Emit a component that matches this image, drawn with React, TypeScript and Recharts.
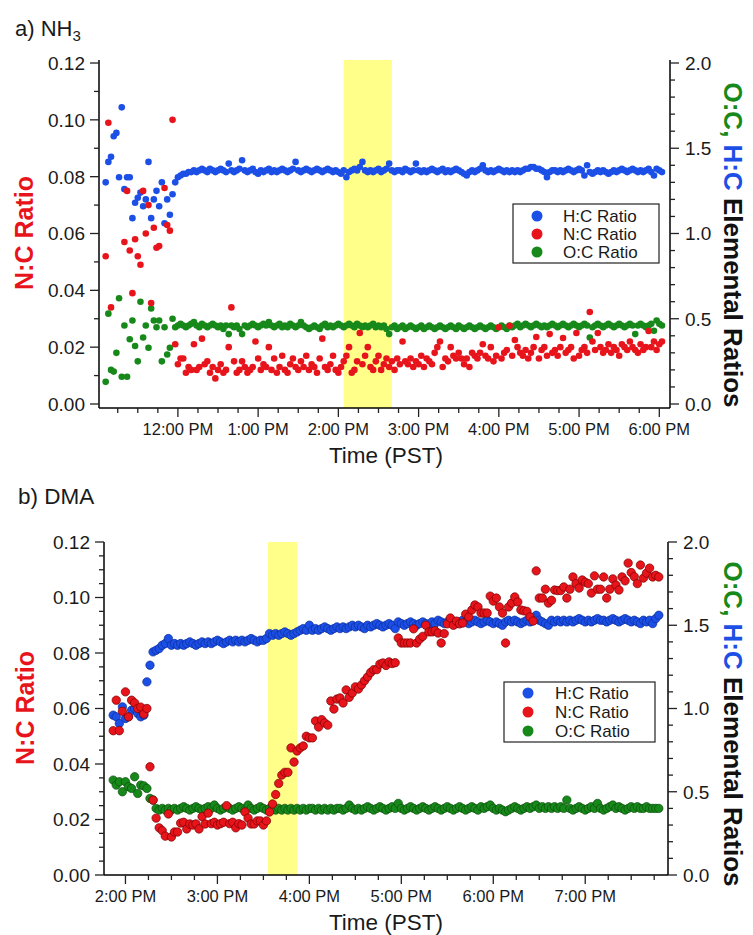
import { ReferenceArea, Scatter, ScatterChart, XAxis, YAxis } from "recharts";

/**
 * Two stacked scatter panels of elemental ratios vs. time of day:
 * a) NH3 and b) DMA. N:C on the left axis, H:C and O:C on the right axis,
 * with the yellow band marking the exposure window.
 */

const FONT = "'Liberation Sans', Arial, Helvetica, sans-serif";
const BLUE = "#1c4fe6";
const RED = "#e8141c";
const GREEN = "#17891a";
const BAND = "#ffff8a";
const INK = "#1a1a1a";

// instrument sampling interval, minutes
const SAMPLE_MIN = 2;

// ---- panel a) NH3 : first sample at 11:06 ----
const startA = 666;
const hcA = [
  1.30, 1.42, 1.45, 1.57, 1.59, 1.33, 1.74, 1.26, 1.33, 1.33,
  1.09, 1.18, 1.21, 1.24, 1.16, 1.20, 1.42, 1.09, 1.20, 1.25,
  1.16, 1.30, 1.06, 1.20, 1.11, 1.23, 1.30, 1.33, 1.34, 1.35,
  1.35, 1.36, 1.36, 1.37, 1.36, 1.37, 1.38, 1.37, 1.36, 1.38,
  1.37, 1.36, 1.37, 1.38, 1.37, 1.36, 1.41, 1.37, 1.36, 1.37,
  1.38, 1.43, 1.37, 1.36, 1.37, 1.38, 1.36, 1.35, 1.37, 1.36,
  1.37, 1.38, 1.36, 1.37, 1.36, 1.37, 1.38, 1.37, 1.36, 1.37,
  1.38, 1.42, 1.37, 1.36, 1.37, 1.38, 1.37, 1.36, 1.37, 1.38,
  1.37, 1.36, 1.37, 1.38, 1.37, 1.36, 1.37, 1.36, 1.35, 1.37,
  1.33, 1.36, 1.37, 1.38, 1.37, 1.39, 1.42, 1.37, 1.36, 1.37,
  1.36, 1.37, 1.38, 1.36, 1.37, 1.38, 1.41, 1.37, 1.36, 1.37,
  1.37, 1.36, 1.38, 1.37, 1.36, 1.37, 1.41, 1.37, 1.36, 1.37,
  1.36, 1.37, 1.38, 1.37, 1.36, 1.37, 1.38, 1.36, 1.37, 1.36,
  1.37, 1.38, 1.37, 1.36, 1.35, 1.34, 1.36, 1.37, 1.36, 1.37,
  1.38, 1.40, 1.37, 1.36, 1.37, 1.36, 1.37, 1.38, 1.37, 1.36,
  1.37, 1.36, 1.37, 1.36, 1.37, 1.36, 1.37, 1.38, 1.38, 1.39,
  1.39, 1.38, 1.38, 1.37, 1.36, 1.33, 1.36, 1.37, 1.37, 1.36,
  1.37, 1.36, 1.37, 1.38, 1.37, 1.36, 1.37, 1.38, 1.37, 1.34,
  1.40, 1.36, 1.35, 1.36, 1.37, 1.36, 1.37, 1.36, 1.35, 1.36,
  1.37, 1.36, 1.37, 1.38, 1.37, 1.36, 1.37, 1.38, 1.37, 1.36,
  1.37, 1.36, 1.37, 1.38, 1.36, 1.34, 1.38, 1.37, 1.36,
];
const ncA = [
  0.052, 0.099, 0.034, null, null, null, null, 0.057, 0.075, 0.054,
  0.039, 0.058, 0.052, 0.049, 0.075, 0.060, 0.070, 0.0355, 0.062, 0.055,
  0.0556, null, 0.076, 0.063, 0.061, 0.100, 0.021, 0.014, 0.016, 0.016,
  0.011, 0.013, 0.012, 0.021, 0.012, 0.013, 0.023, 0.014, 0.015, 0.011,
  0.013, 0.009, 0.012, 0.014, 0.011, 0.012, 0.020, 0.034, 0.015, 0.011,
  0.012, 0.015, 0.013, 0.011, 0.012, 0.013, 0.022, 0.016, 0.012, 0.014,
  0.013, 0.020, 0.012, 0.016, 0.011, 0.013, 0.017, 0.012, 0.011, 0.014,
  0.016, 0.013, 0.012, 0.015, 0.013, 0.017, 0.012, 0.014, 0.013, 0.011,
  0.016, 0.023, 0.013, 0.012, 0.014, 0.017, 0.012, 0.011, 0.013, 0.015,
  0.017, 0.020, 0.011, 0.012, 0.015, 0.025, 0.014, 0.017, 0.020, 0.013,
  0.012, 0.015, 0.017, 0.012, 0.014, 0.016, 0.013, 0.015, 0.012, 0.016,
  0.014, 0.022, 0.015, 0.014, 0.016, 0.013, 0.015, 0.014, 0.017, 0.013,
  0.016, 0.015, 0.014, 0.018, 0.020, 0.022, 0.013, 0.016, 0.015, 0.020,
  0.017, 0.016, 0.018, 0.016, 0.014, 0.016, 0.013, 0.018, 0.017, 0.016,
  0.018, 0.021, 0.017, 0.016, 0.020, 0.015, 0.017, 0.027, 0.016, 0.018,
  0.019, 0.0275, 0.017, 0.0225, 0.020, 0.018, 0.017, 0.019, 0.016, 0.018,
  0.020, 0.0236, 0.016, 0.019, 0.020, 0.017, 0.0246, 0.018, 0.019, 0.017,
  0.020, 0.0232, 0.018, 0.019, 0.020, 0.016, 0.025, 0.017, 0.019, 0.020,
  0.018, 0.0324, 0.022, 0.019, 0.025, 0.020, 0.018, 0.019, 0.021, 0.018,
  0.020, 0.019, 0.017, 0.021, 0.020, 0.019, 0.022, 0.020, 0.019, 0.018,
  0.021, 0.019, 0.020, 0.0257, 0.020, 0.022, 0.019, 0.021, 0.022,
];
const ocA = [
  0.13, 0.53, 0.20, 0.19, 0.30, 0.62, 0.16, 0.46, 0.16, 0.38,
  0.49, 0.34, 0.25, 0.60, 0.39, 0.46, 0.33, 0.56, 0.49, 0.45,
  0.49, 0.25, 0.45, 0.29, 0.33, 0.50, 0.45, 0.46, 0.47, 0.46,
  0.45, 0.46, 0.47, 0.48, 0.46, 0.45, 0.47, 0.46, 0.45, 0.46,
  0.47, 0.46, 0.45, 0.46, 0.44, 0.46, 0.41, 0.46, 0.45, 0.46,
  0.44, 0.41, 0.46, 0.45, 0.46, 0.47, 0.46, 0.45, 0.46, 0.47,
  0.46, 0.48, 0.46, 0.45, 0.46, 0.47, 0.45, 0.46, 0.45, 0.47,
  0.46, 0.45, 0.46, 0.48, 0.46, 0.45, 0.44, 0.45, 0.46, 0.45,
  0.44, 0.46, 0.47, 0.45, 0.46, 0.45, 0.46, 0.47, 0.46, 0.45,
  0.46, 0.47, 0.46, 0.45, 0.47, 0.46, 0.45, 0.46, 0.45, 0.46,
  0.47, 0.45, 0.46, 0.45, 0.46, 0.44, 0.41, 0.45, 0.46, 0.44,
  0.45, 0.46, 0.44, 0.45, 0.46, 0.45, 0.44, 0.45, 0.46, 0.44,
  0.45, 0.46, 0.45, 0.44, 0.45, 0.46, 0.45, 0.44, 0.45, 0.46,
  0.45, 0.44, 0.46, 0.45, 0.44, 0.45, 0.46, 0.45, 0.44, 0.45,
  0.46, 0.45, 0.44, 0.45, 0.46, 0.45, 0.44, 0.45, 0.46, 0.45,
  0.44, 0.46, 0.45, 0.46, 0.47, 0.45, 0.46, 0.47, 0.46, 0.45,
  0.46, 0.47, 0.46, 0.45, 0.46, 0.45, 0.46, 0.47, 0.46, 0.45,
  0.46, 0.47, 0.46, 0.45, 0.46, 0.47, 0.46, 0.45, 0.46, 0.47,
  0.46, 0.39, 0.45, 0.46, 0.47, 0.46, 0.45, 0.46, 0.47, 0.46,
  0.45, 0.46, 0.47, 0.46, 0.45, 0.46, 0.47, 0.46, 0.41, 0.46,
  0.47, 0.46, 0.45, 0.46, 0.47, 0.43, 0.49, 0.47, 0.46,
];

// ---- panel b) DMA : first sample at 13:52 ----
const startB = 832;
const hcB = [
  0.96, 0.95, 0.91, 1.01, 0.94, 0.95, 0.99, 1.00, 0.97, 0.95,
  0.96, 1.16, 1.26, 1.34, 1.35, 1.36, 1.38, 1.39, 1.42, 1.38,
  1.39, 1.38, 1.39, 1.38, 1.39, 1.40, 1.39, 1.38, 1.39, 1.40,
  1.39, 1.40, 1.39, 1.40, 1.41, 1.40, 1.39, 1.40, 1.41, 1.40,
  1.41, 1.40, 1.41, 1.40, 1.41, 1.42, 1.41, 1.40, 1.41, 1.41,
  1.42, 1.45, 1.44, 1.45, 1.44, 1.45, 1.46, 1.45, 1.44, 1.45,
  1.46, 1.47, 1.48, 1.47, 1.50, 1.47, 1.48, 1.47, 1.48, 1.49,
  1.48, 1.47, 1.48, 1.49, 1.48, 1.49, 1.48, 1.49, 1.50, 1.49,
  1.50, 1.49, 1.48, 1.50, 1.49, 1.50, 1.51, 1.50, 1.49, 1.50,
  1.51, 1.50, 1.48, 1.52, 1.51, 1.50, 1.51, 1.52, 1.51, 1.50,
  1.51, 1.52, 1.51, 1.50, 1.52, 1.51, 1.53, 1.52, 1.51, 1.52,
  1.53, 1.52, 1.51, 1.52, 1.53, 1.52, 1.51, 1.52, 1.53, 1.52,
  1.51, 1.52, 1.53, 1.52, 1.51, 1.52, 1.51, 1.50, 1.52, 1.53,
  1.52, 1.53, 1.52, 1.51, 1.52, 1.53, 1.52, 1.54, 1.56, 1.53,
  1.52, 1.51, 1.50, 1.53, 1.52, 1.53, 1.52, 1.53, 1.52, 1.53,
  1.52, 1.53, 1.54, 1.53, 1.52, 1.53, 1.52, 1.53, 1.54, 1.53,
  1.53, 1.52, 1.53, 1.54, 1.53, 1.52, 1.53, 1.54, 1.53, 1.52,
  1.53, 1.52, 1.51, 1.53, 1.52, 1.53, 1.51, 1.54, 1.56,
];
const ncB = [
  0.052, 0.063, 0.052, 0.059, 0.066, 0.057, 0.063, 0.062, 0.060, 0.0605,
  0.058, 0.060, 0.039, 0.027, 0.0205, 0.017, 0.016, 0.014, 0.022, 0.0137,
  0.0155, 0.0155, 0.0187, 0.019, 0.0166, 0.0184, 0.018, 0.0184, 0.0166, 0.021,
  0.0184, 0.0223, 0.0185, 0.019, 0.018, 0.0185, 0.019, 0.025, 0.0185, 0.019,
  0.017, 0.0185, 0.018, 0.0227, 0.0205, 0.0184, 0.0184, 0.0195, 0.0195, 0.018,
  0.0195, 0.0227, 0.0256, 0.029, 0.033, 0.036, 0.037, 0.037, 0.0458, 0.0407,
  0.0447, 0.0458, 0.0465, 0.050, 0.0494, 0.0494, 0.0555, 0.0533, 0.056, 0.0548,
  0.054, 0.0627, 0.0598, 0.0634, 0.0638, 0.062, 0.0667, 0.064, 0.0656, 0.0678,
  0.067, 0.0685, 0.070, 0.0714, 0.073, 0.074, 0.074, 0.076, 0.0764, 0.0755,
  0.0768, 0.0762, 0.0765, 0.0854, 0.0836, 0.0836, 0.0836, 0.0836, 0.0887, 0.0836,
  0.085, 0.086, 0.090, 0.0876, 0.0876, 0.088, 0.0872, 0.0836, 0.087, 0.0905,
  0.0926, 0.090, 0.0915, 0.0905, 0.0908, 0.094, 0.093, 0.0955, 0.0973, 0.0966,
  0.0944, 0.0944, 0.0944, 0.1005, 0.0987, 0.0998, 0.0966, 0.0944, 0.0836, 0.0966,
  0.098, 0.1002, 0.0984, 0.0955, 0.0952, 0.095, 0.093, 0.0915, 0.1096, 0.0998,
  0.0998, 0.103, 0.098, 0.099, 0.1027, 0.1025, 0.1025, 0.1038, 0.0998, 0.103,
  0.1074, 0.105, 0.1034, 0.1063, 0.1055, 0.105, 0.1016, 0.1078, 0.103, 0.103,
  0.1074, 0.0998, 0.103, 0.1067, 0.1045, 0.1027, 0.1074, 0.106, 0.1124, 0.109,
  0.1075, 0.105, 0.1117, 0.107, 0.1088, 0.1106, 0.1074, 0.108, 0.1074,
];
const ocB = [
  0.57, 0.54, 0.56, 0.50, 0.56, 0.53, 0.52, 0.59, 0.49, 0.54,
  0.535, 0.52, 0.46, 0.45, 0.40, 0.39, 0.40, 0.39, 0.40, 0.39,
  0.40, 0.39, 0.40, 0.41, 0.40, 0.39, 0.40, 0.41, 0.40, 0.39,
  0.40, 0.41, 0.40, 0.42, 0.40, 0.39, 0.40, 0.41, 0.40, 0.39,
  0.40, 0.41, 0.40, 0.39, 0.42, 0.40, 0.39, 0.40, 0.41, 0.40,
  0.39, 0.40, 0.41, 0.39, 0.40, 0.39, 0.40, 0.39, 0.40, 0.39,
  0.40, 0.39, 0.40, 0.39, 0.40, 0.40, 0.39, 0.40, 0.39, 0.40,
  0.39, 0.40, 0.39, 0.40, 0.40, 0.39, 0.40, 0.42, 0.40, 0.39,
  0.40, 0.39, 0.40, 0.41, 0.40, 0.39, 0.40, 0.41, 0.40, 0.39,
  0.40, 0.41, 0.40, 0.43, 0.40, 0.39, 0.40, 0.41, 0.40, 0.39,
  0.40, 0.41, 0.40, 0.39, 0.40, 0.41, 0.40, 0.39, 0.40, 0.41,
  0.40, 0.39, 0.40, 0.41, 0.40, 0.39, 0.40, 0.41, 0.40, 0.39,
  0.41, 0.40, 0.41, 0.42, 0.40, 0.39, 0.40, 0.39, 0.38, 0.39,
  0.40, 0.41, 0.40, 0.39, 0.40, 0.41, 0.40, 0.41, 0.42, 0.40,
  0.41, 0.40, 0.41, 0.40, 0.41, 0.40, 0.41, 0.40, 0.45, 0.40,
  0.39, 0.40, 0.41, 0.40, 0.39, 0.40, 0.41, 0.40, 0.43, 0.40,
  0.39, 0.40, 0.41, 0.42, 0.40, 0.41, 0.40, 0.39, 0.40, 0.41,
  0.40, 0.41, 0.40, 0.40, 0.41, 0.40, 0.40, 0.40, 0.40,
];

// exposure windows (minutes after midnight)
const bandA: [number, number] = [844, 880];
const bandB: [number, number] = [933, 952];

type Pt = { t: number; v: number };

function toPoints(start: number, vals: (number | null)[]): Pt[] {
  const out: Pt[] = [];
  vals.forEach((v, i) => {
    if (v != null) out.push({ t: start + i * SAMPLE_MIN, v });
  });
  return out;
}

function steps(from: number, to: number, step: number) {
  const r: number[] = [];
  for (let k = 0; from + k * step <= to + 1e-9; k++) r.push(Number((from + k * step).toFixed(4)));
  return r;
}

const isIn = (v: number, list: number[]) => list.some((m) => Math.abs(m - v) < 1e-6);

const clock = (m: number) => {
  const h = Math.round(m / 60);
  return `${h > 12 ? h - 12 : h}:00 PM`;
};

const LINE = { stroke: "#000", strokeWidth: 1.5 };
const TICK_W = 1.3;

function LeftTick(props: any) {
  const { x, y, payload, majors, digits } = props;
  const major = isIn(payload.value, majors);
  return (
    <g>
      <line x1={x} x2={x - (major ? 9 : 5)} y1={y} y2={y} stroke="#222" strokeWidth={TICK_W} />
      {major && (
        <text x={x - 14} y={y} dy="0.36em" textAnchor="end" fontSize={19} fill={INK}>
          {payload.value.toFixed(digits)}
        </text>
      )}
    </g>
  );
}

function RightTick(props: any) {
  const { x, y, payload, majors } = props;
  const major = isIn(payload.value, majors);
  return (
    <g>
      <line x1={x} x2={x + (major ? 9 : 5)} y1={y} y2={y} stroke="#222" strokeWidth={TICK_W} />
      {major && (
        <text x={x + 15} y={y} dy="0.36em" textAnchor="start" fontSize={19} fill={INK}>
          {payload.value.toFixed(1)}
        </text>
      )}
    </g>
  );
}

function BottomTick(props: any) {
  const { x, y, payload, majors } = props;
  const major = isIn(payload.value, majors);
  return (
    <g>
      <line x1={x} x2={x} y1={y} y2={y + (major ? 9 : 5)} stroke="#222" strokeWidth={TICK_W} />
      {major && (
        <text x={x} y={y + 27} textAnchor="middle" fontSize={16.5} fill={INK}>
          {clock(payload.value)}
        </text>
      )}
    </g>
  );
}

type PanelCfg = {
  height: number;
  top: number;
  leftW: number;
  rightW: number;
  xAxisH: number;
  xDomain: [number, number];
  xTicks: number[];
  xMajor: number[];
  leftDomain: [number, number];
  leftTicks: number[];
  leftMajor: number[];
  rightDomain: [number, number];
  rightTicks: number[];
  rightMajor: number[];
  band: [number, number];
  hc: Pt[];
  nc: Pt[];
  oc: Pt[];
  r: number;
  outline: boolean;
};

function Panel({ c }: { c: PanelCfg }) {
  const dot = (fill: string, stroke: string) => (p: any) =>
    (
      <circle
        cx={p.cx}
        cy={p.cy}
        r={c.r}
        fill={fill}
        stroke={c.outline ? stroke : "none"}
        strokeWidth={0.7}
      />
    );
  return (
    <ScatterChart width={753} height={c.height} margin={{ top: c.top, right: 0, bottom: 0, left: 0 }}>
      <XAxis
        xAxisId="b"
        type="number"
        dataKey="t"
        domain={c.xDomain}
        ticks={c.xTicks}
        interval={0}
        allowDataOverflow
        height={c.xAxisH}
        axisLine={LINE}
        tickLine={false}
        tickSize={0}
        tickMargin={0}
        tick={<BottomTick majors={c.xMajor} />}
      />
      <XAxis
        xAxisId="top"
        orientation="top"
        type="number"
        domain={c.xDomain}
        allowDataOverflow
        height={0}
        axisLine={LINE}
        tick={false}
        tickLine={false}
      />
      <YAxis
        yAxisId="l"
        type="number"
        dataKey="v"
        domain={c.leftDomain}
        ticks={c.leftTicks}
        interval={0}
        allowDataOverflow
        width={c.leftW}
        axisLine={LINE}
        tickLine={false}
        tickSize={0}
        tickMargin={0}
        tick={<LeftTick majors={c.leftMajor} digits={2} />}
      />
      <YAxis
        yAxisId="r"
        orientation="right"
        type="number"
        dataKey="v"
        domain={c.rightDomain}
        ticks={c.rightTicks}
        interval={0}
        allowDataOverflow
        width={c.rightW}
        axisLine={LINE}
        tickLine={false}
        tickSize={0}
        tickMargin={0}
        tick={<RightTick majors={c.rightMajor} />}
      />
      <ReferenceArea xAxisId="b" yAxisId="l" x1={c.band[0]} x2={c.band[1]} fill={BAND} fillOpacity={1} stroke="none" />
      <Scatter xAxisId="b" yAxisId="r" data={c.hc} fill={BLUE} shape={dot(BLUE, "#0c2c9a")} isAnimationActive={false} />
      <Scatter xAxisId="b" yAxisId="r" data={c.oc} fill={GREEN} shape={dot(GREEN, "#0b4d0c")} isAnimationActive={false} />
      <Scatter xAxisId="b" yAxisId="l" data={c.nc} fill={RED} shape={dot(RED, "#7a0000")} isAnimationActive={false} />
    </ScatterChart>
  );
}

const panelA: PanelCfg = {
  height: 465,
  top: 60,
  leftW: 99,
  rightW: 83,
  xAxisH: 57,
  xDomain: [661, 1088],
  xTicks: steps(675, 1080, 15),
  xMajor: steps(720, 1080, 60),
  leftDomain: [-0.00141, 0.12106],
  leftTicks: steps(0, 0.12, 0.01),
  leftMajor: steps(0, 0.12, 0.02),
  rightDomain: [-0.0235, 2.0176],
  rightTicks: steps(0, 2, 0.1),
  rightMajor: steps(0, 2, 0.5),
  band: bandA,
  hc: toPoints(startA, hcA),
  nc: toPoints(startA, ncA),
  oc: toPoints(startA, ocA),
  r: 3.3,
  outline: false,
};

const panelB: PanelCfg = {
  height: 470,
  top: 77,
  leftW: 104,
  rightW: 85,
  xAxisH: 60,
  xDomain: [826, 1194],
  xTicks: steps(840, 1185, 15),
  xMajor: steps(840, 1140, 60),
  leftDomain: [0, 0.12],
  leftTicks: steps(0, 0.12, 0.005),
  leftMajor: steps(0, 0.12, 0.02),
  rightDomain: [0, 2],
  rightTicks: steps(0, 2, 0.1),
  rightMajor: steps(0, 2, 0.5),
  band: bandB,
  hc: toPoints(startB, hcB),
  nc: toPoints(startB, ncB),
  oc: toPoints(startB, ocB),
  r: 4.2,
  outline: true,
};

function LegendBox({ x, y, w, h, rows, cx, tx }: { x: number; y: number; w: number; h: number; rows: number[]; cx: number; tx: number }) {
  const items = [
    { label: "H:C Ratio", color: BLUE },
    { label: "N:C Ratio", color: RED },
    { label: "O:C Ratio", color: GREEN },
  ];
  return (
    <g>
      <rect x={x} y={y} width={w} height={h} fill="#fff" stroke="#222" strokeWidth={1.2} />
      {items.map((it, i) => (
        <g key={it.label}>
          <circle cx={cx} cy={rows[i]} r={5.5} fill={it.color} />
          <text x={tx} y={rows[i]} dy="0.36em" fontSize={17} fill={INK}>
            {it.label}
          </text>
        </g>
      ))}
    </g>
  );
}

function Titles({ left, right, timeY }: { left: [number, number]; right: [number, number]; timeY: number }) {
  return (
    <g fontWeight="bold">
      <text
        transform={`translate(${left[0]},${left[1]}) rotate(-90)`}
        textAnchor="middle"
        dominantBaseline="central"
        fontSize={25}
        fill={RED}
      >
        N:C Ratio
      </text>
      <text
        transform={`translate(${right[0]},${right[1]}) rotate(90)`}
        textAnchor="middle"
        dominantBaseline="central"
        fontSize={26}
      >
        <tspan fill={GREEN}>O:C, </tspan>
        <tspan fill={BLUE}>H:C </tspan>
        <tspan fill="#111">Elemental Ratios</tspan>
      </text>
      <text x={386} y={timeY} textAnchor="middle" fontSize={22.5} fontWeight="normal" fill={INK}>
        Time (PST)
      </text>
    </g>
  );
}

export default function App() {
  return (
    <div style={{ position: "absolute", left: 0, top: 0, width: 753, height: 935, background: "#fff", fontFamily: FONT, overflow: "hidden" }}>
      <div style={{ position: "absolute", left: 0, top: 0 }}>
        <Panel c={panelA} />
      </div>
      <div style={{ position: "absolute", left: 0, top: 465 }}>
        <Panel c={panelB} />
      </div>
      <svg width={753} height={935} style={{ position: "absolute", left: 0, top: 0, pointerEvents: "none" }} fontFamily={FONT}>
        <text x={15} y={36} fontSize={22} fill={INK}>
          a) NH<tspan fontSize={15} dy={5}>3</tspan>
        </text>
        <text x={18} y={504} fontSize={22.5} fill={INK}>
          b) DMA
        </text>
        <Titles left={[24, 233]} right={[733, 245]} timeY={463} />
        <Titles left={[25, 708]} right={[733, 724]} timeY={930} />
        <LegendBox x={513} y={204} w={146} h={59} rows={[216, 234, 252]} cx={537} tx={563} />
        <LegendBox x={504} y={682} w={151} h={60} rows={[693, 712, 731]} cx={528} tx={555} />
      </svg>
    </div>
  );
}
